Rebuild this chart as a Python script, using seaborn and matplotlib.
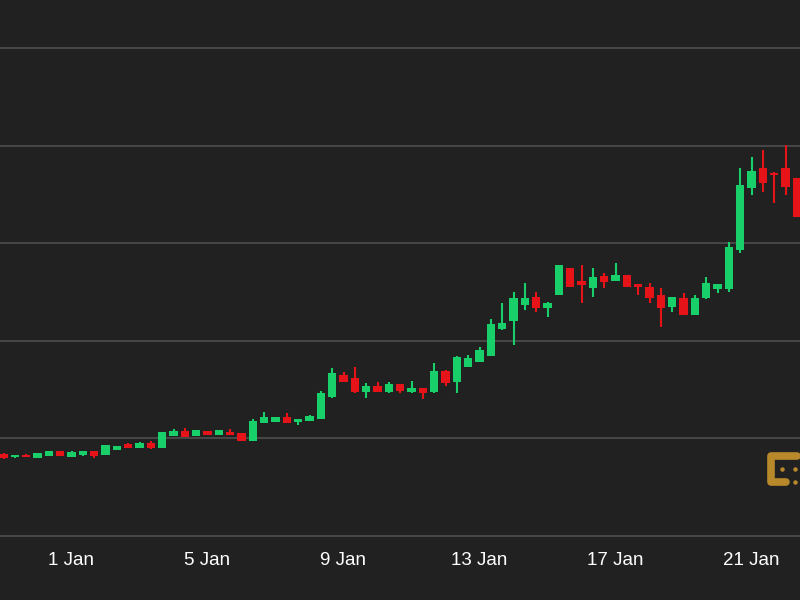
import matplotlib
matplotlib.use("Agg")
import matplotlib.pyplot as plt
import matplotlib.dates as mdates
import seaborn as sns
import pandas as pd
import numpy as np

# 8-hour candles, first one opens 30 Dec
start = "2024-12-30 00:00"
freq = "8h"

opens = [8.45, 8.06, 8.35, 8.04, 8.20, 8.71, 8.12, 8.27, 8.74, 8.30,
         8.81, 9.46, 8.99, 9.58, 8.99, 10.25, 10.79, 10.25, 10.79, 10.35,
         10.69, 10.58, 9.76, 11.55, 11.71, 12.22, 11.71, 11.81, 11.99, 14.27,
         16.50, 16.16, 14.78, 15.42, 14.72, 15.57, 14.72, 15.13, 14.72, 16.94,
         15.75, 17.35, 17.86, 18.47, 21.18, 22.03, 23.67, 24.52, 23.33, 24.69,
         27.43, 26.16, 25.38, 26.69, 26.16, 26.74, 25.79, 25.54, 24.69, 23.49,
         24.35, 22.64, 24.35, 25.31, 25.31, 29.30, 35.63, 37.67, 37.22, 37.67,
         36.65]
highs = [8.50, 8.32, 8.37, 8.50, 8.76, 8.73, 8.66, 8.76, 8.76, 9.34,
         9.27, 9.48, 9.63, 9.78, 10.65, 10.96, 11.10, 10.88, 10.81, 10.88,
         10.93, 10.60, 11.99, 12.67, 12.24, 12.63, 12.01, 12.35, 14.86, 17.18,
         16.85, 17.28, 15.65, 15.73, 15.81, 15.59, 15.91, 15.15, 17.76, 16.96,
         18.47, 18.55, 19.40, 22.23, 23.84, 25.03, 25.89, 25.03, 24.01, 27.79,
         27.45, 27.77, 27.43, 26.90, 28.00, 26.76, 25.81, 25.95, 25.38, 24.54,
         24.87, 24.69, 26.57, 25.84, 30.15, 37.67, 38.86, 39.55, 37.30, 40.06,
         36.67]
lows = [7.89, 8.04, 8.07, 8.02, 8.18, 8.15, 8.10, 8.25, 8.02, 8.28,
        8.79, 9.00, 8.97, 8.91, 8.97, 10.23, 10.15, 10.23, 10.33, 10.33,
        10.30, 9.74, 9.74, 11.53, 11.69, 11.53, 11.37, 11.79, 11.97, 14.17,
        15.79, 14.70, 14.11, 14.76, 14.70, 14.68, 14.70, 14.01, 14.70, 15.40,
        14.62, 17.33, 17.84, 18.45, 21.11, 19.57, 23.16, 22.98, 22.47, 24.67,
        25.52, 23.84, 24.52, 25.38, 26.14, 25.52, 24.69, 23.84, 21.44, 22.98,
        22.62, 22.62, 24.33, 24.87, 25.03, 28.97, 34.94, 35.28, 34.09, 34.94,
        32.70]
closes = [8.04, 8.30, 8.09, 8.47, 8.74, 8.17, 8.64, 8.74, 8.23, 9.32,
          9.25, 9.02, 9.50, 9.02, 10.62, 10.76, 10.17, 10.86, 10.35, 10.86,
          10.32, 9.76, 11.81, 12.22, 12.22, 11.55, 11.99, 12.33, 14.62, 16.67,
          15.81, 14.72, 15.40, 14.78, 15.54, 14.89, 15.13, 14.62, 16.94, 15.65,
          18.37, 18.29, 19.06, 21.72, 21.85, 24.42, 24.42, 23.33, 23.84, 27.77,
          25.54, 25.72, 26.57, 26.02, 26.74, 25.54, 25.54, 24.35, 23.33, 24.52,
          22.64, 24.35, 25.89, 25.82, 29.58, 35.96, 37.40, 36.20, 36.99, 35.79,
          32.72]

tick_dates = ["2025-01-01", "2025-01-05", "2025-01-09", "2025-01-13", "2025-01-17", "2025-01-21"]
tick_labels = ["1 Jan", "5 Jan", "9 Jan", "13 Jan", "17 Jan", "21 Jan"]
grid_levels = [0, 10, 20, 30, 40, 50]

BG = "#212121"
UP = "#18cf6a"
DOWN = "#e61419"

sns.set_theme(style="dark", rc={
    "axes.facecolor": BG,
    "figure.facecolor": BG,
    "axes.edgecolor": BG,
    "xtick.color": "white",
    "text.color": "white",
})
plt.rcParams["font.family"] = ["Liberation Sans", "DejaVu Sans"]

df = pd.DataFrame({
    "time": pd.date_range(start, periods=len(opens), freq=freq),
    "open": opens, "high": highs, "low": lows, "close": closes,
})
df["x"] = mdates.date2num(df["time"])
df["up"] = df["close"] >= df["open"]
df["color"] = np.where(df["up"], UP, DOWN)

fig = plt.figure(figsize=(8, 6), dpi=100)
ax = fig.add_axes([0, 63 / 600, 1, 537 / 600])

for lvl in grid_levels:
    ax.axhline(lvl, color="#525252", lw=1.1, zorder=0)

width = 0.24  # days
ax.vlines(df["x"], df["low"], df["high"], colors=df["color"], lw=1.5, zorder=2)
bottoms = df[["open", "close"]].min(axis=1)
heights = (df["close"] - df["open"]).abs().clip(lower=0.2)
ax.bar(df["x"], heights, bottom=bottoms, width=width, color=df["color"],
       linewidth=0, zorder=3)

x0 = mdates.date2num(pd.Timestamp(start)) - 3.5 / 34
ax.set_xlim(x0, x0 + 800 / 34)
ax.set_ylim(-0.1, 536 / 9.76)

ax.set_xticks(mdates.date2num(pd.to_datetime(tick_dates)))
ax.set_xticklabels(tick_labels, fontsize=13.5, color="white")
ax.tick_params(axis="x", length=0, pad=11)
ax.set_yticks([])
ax.grid(False)
for s in ax.spines.values():
    s.set_visible(False)

# small gold logo bottom right
gold = "#b8892b"
def px(x, y):
    return (x / 800, 1 - y / 600)
xs, ys = zip(*[px(797, 456), px(771, 456), px(771, 482), px(786, 482)])
fig.add_artist(plt.Line2D(xs, ys, transform=fig.transFigure, color=gold,
                          lw=5.5, solid_capstyle="round", solid_joinstyle="round"))
for p in [px(782, 469), px(795, 469), px(795, 482)]:
    fig.add_artist(plt.Line2D([p[0]], [p[1]], transform=fig.transFigure,
                              marker="o", markersize=2.2, color=gold, lw=0))

fig.savefig("out.png", dpi=100, facecolor=BG)
